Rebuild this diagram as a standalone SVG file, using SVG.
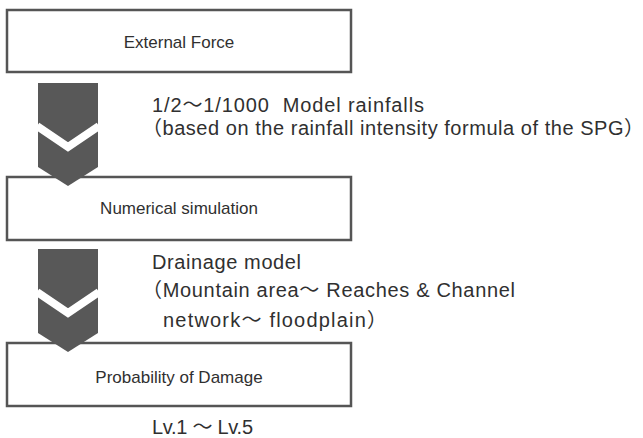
<svg xmlns="http://www.w3.org/2000/svg" width="643" height="438" viewBox="0 0 643 438">
<style>
.box{fill:#fff;stroke:#555;stroke-width:2.5}
.bt{font-family:'Liberation Sans','Noto Sans CJK JP',sans-serif;font-size:17px;fill:#303030;text-anchor:middle}
.lt{font-family:'Liberation Sans','Noto Sans CJK JP',sans-serif;font-size:20px;fill:#303030}
.chev{fill:#585858}
.cut{fill:none;stroke:#fff;stroke-width:8;stroke-linejoin:miter}
</style>
<defs>
<g id="chevron">
<polygon class="chev" points="0,0 60,0 60,84 30,103 0,84"/>
<polyline class="cut" points="-1,43 30,64 61,43"/>
</g>
</defs>
<g id="node-external-force">
<rect class="box" x="7" y="10" width="344" height="62"/>
<text class="bt" x="179" y="48">External Force</text>
</g>
<g id="node-numerical-simulation">
<rect class="box" x="7" y="177" width="344" height="63"/>
<text class="bt" x="179" y="214">Numerical simulation</text>
</g>
<g id="node-probability-of-damage">
<rect class="box" x="7" y="343" width="344" height="63"/>
<text class="bt" x="179" y="383">Probability of Damage</text>
</g>
<g id="connectors">
<use href="#chevron" x="38" y="83"/>
<use href="#chevron" x="38" y="249"/>
</g>
<g id="labels">
<text class="lt" x="152" y="112" textLength="272" xml:space="preserve">1/2～1/1000  Model rainfalls</text>
<text class="lt" x="142" y="135" textLength="502">（based on the rainfall intensity formula of the SPG）</text>
<text class="lt" x="152" y="269" textLength="149">Drainage model</text>
<text class="lt" x="142" y="297" textLength="373">（Mountain area～ Reaches &amp; Channel</text>
<text class="lt" x="163" y="327" textLength="224">network～ floodplain）</text>
<text class="lt" x="152" y="434" textLength="101">Lv.1 ～ Lv.5</text>
</g>
</svg>
